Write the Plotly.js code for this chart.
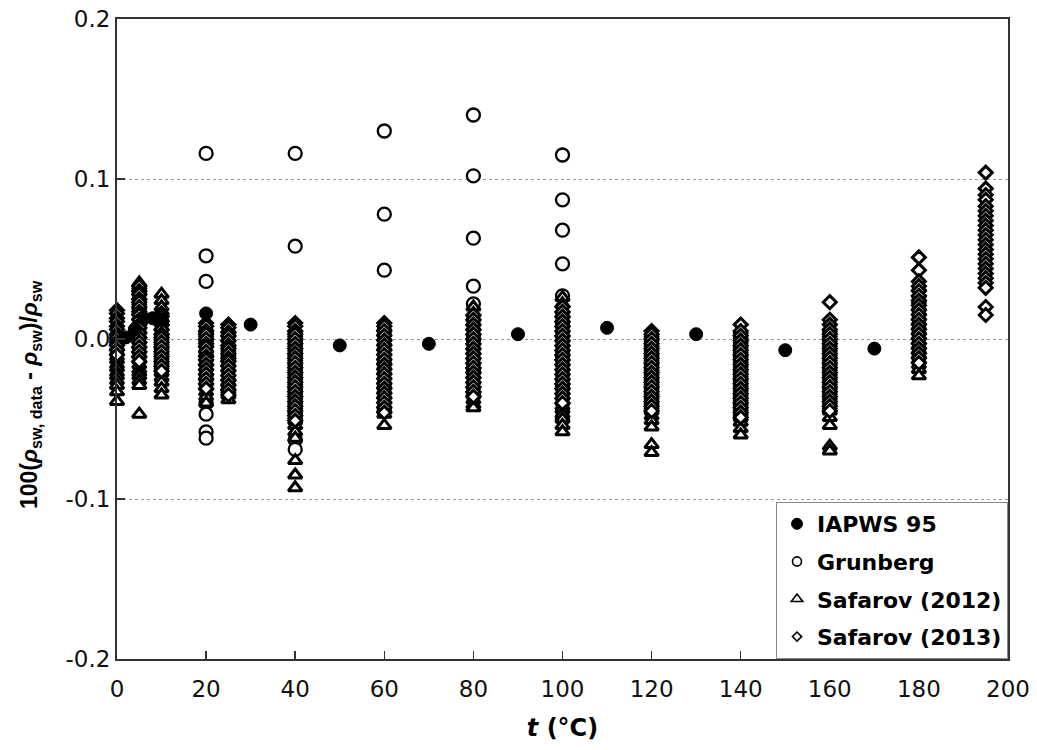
<!DOCTYPE html>
<html>
<head>
<meta charset="utf-8">
<script src="https://cdn.plot.ly/plotly-3.0.1.min.js"></script>
<style>html,body{margin:0;padding:0;background:#fff;}#chart{width:1037px;height:750px;}</style>
</head>
<body>
<div id="chart"></div>
<script>
// ---- data ----
const seriesNames = ["IAPWS 95", "Grunberg", "Safarov (2012)", "Safarov (2013)"];

const iapwsT   = [2, 4, 6, 8, 10, 20, 30, 50, 70, 90, 110, 130, 150, 170];
const iapwsDev = [0.001, 0.006, 0.013, 0.013, 0.012, 0.016, 0.009, -0.004, -0.003, 0.003, 0.007, 0.003, -0.007, -0.006];

const grunbergTemps = [20, 40, 60, 80, 100];
const grunbergDevs = [
  [0.116, 0.052, 0.036, 0.005, -0.010, -0.025, -0.040, -0.047, -0.058, -0.062],
  [0.116, 0.058, -0.010, -0.030, -0.045, -0.063, -0.069],
  [0.130, 0.078, 0.043, 0.005, -0.015, -0.030, -0.045],
  [0.140, 0.102, 0.063, 0.033, 0.022, 0.000, -0.020, -0.035],
  [0.115, 0.087, 0.068, 0.047, 0.027, 0.010, -0.010, -0.030, -0.050]
];

const safarov2012Temps = [0, 5, 10, 20, 25, 40, 60, 80, 100, 120, 140, 160, 180];
const safarov2012Devs = [
  [0.004, 0.001, -0.002, -0.005, -0.008, -0.011, -0.013, -0.016, -0.018, -0.021, -0.023, -0.026, -0.029, -0.033, -0.039],
  [0.035, 0.033, 0.031, 0.029, 0.026, 0.023, 0.020, 0.017, 0.014, 0.011, 0.008, 0.005, 0.002, -0.001, -0.004, -0.007, -0.010, -0.013, -0.016, -0.019, -0.021, -0.023, -0.026, -0.029, -0.047],
  [0.028, 0.024, 0.020, 0.016, 0.013, 0.010, 0.007, 0.004, 0.001, -0.002, -0.005, -0.008, -0.011, -0.014, -0.017, -0.019, -0.021, -0.024, -0.027, -0.031, -0.035],
  [0.006, 0.003, 0.000, -0.003, -0.006, -0.009, -0.012, -0.015, -0.018, -0.021, -0.024, -0.027, -0.030, -0.033, -0.036, -0.040],
  [0.006, 0.003, 0.000, -0.003, -0.006, -0.009, -0.012, -0.015, -0.018, -0.021, -0.024, -0.027, -0.030, -0.032, -0.035, -0.038],
  [0.006, 0.003, 0.000, -0.003, -0.006, -0.009, -0.012, -0.015, -0.018, -0.021, -0.024, -0.027, -0.030, -0.033, -0.036, -0.039, -0.042, -0.045, -0.048, -0.051, -0.054, -0.058, -0.062, -0.076, -0.085, -0.093],
  [0.007, 0.004, 0.001, -0.002, -0.005, -0.008, -0.011, -0.014, -0.017, -0.020, -0.023, -0.026, -0.029, -0.032, -0.035, -0.038, -0.041, -0.044, -0.047, -0.054],
  [0.020, 0.016, 0.013, 0.010, 0.007, 0.004, 0.001, -0.002, -0.005, -0.008, -0.011, -0.014, -0.017, -0.020, -0.023, -0.026, -0.029, -0.032, -0.035, -0.038, -0.041, -0.043],
  [0.026, 0.022, 0.018, 0.015, 0.012, 0.009, 0.006, 0.003, 0.000, -0.003, -0.006, -0.009, -0.012, -0.015, -0.018, -0.021, -0.024, -0.027, -0.030, -0.033, -0.036, -0.039, -0.042, -0.044, -0.047, -0.050, -0.054, -0.058],
  [0.003, 0.000, -0.003, -0.006, -0.009, -0.012, -0.015, -0.018, -0.021, -0.024, -0.027, -0.030, -0.033, -0.036, -0.039, -0.042, -0.045, -0.048, -0.051, -0.055, -0.066, -0.071],
  [0.005, 0.002, -0.001, -0.004, -0.007, -0.010, -0.013, -0.016, -0.019, -0.022, -0.025, -0.028, -0.031, -0.034, -0.037, -0.040, -0.043, -0.046, -0.049, -0.052, -0.056, -0.060],
  [0.006, 0.003, 0.000, -0.003, -0.006, -0.009, -0.012, -0.015, -0.018, -0.021, -0.024, -0.027, -0.030, -0.033, -0.036, -0.039, -0.042, -0.045, -0.049, -0.054, -0.067, -0.070],
  [0.032, 0.028, 0.024, 0.020, 0.017, 0.014, 0.011, 0.008, 0.005, 0.002, -0.001, -0.004, -0.007, -0.010, -0.013, -0.016, -0.019, -0.023]
];

const safarov2013Temps = [0, 5, 10, 20, 25, 40, 60, 80, 100, 120, 140, 160, 180, 195];
const safarov2013Devs = [
  [0.018, 0.016, 0.013, 0.011, 0.008, 0.006, 0.003, 0.001, -0.002, -0.004, -0.007, -0.010],
  [0.033, 0.030, 0.028, 0.025, 0.023, 0.020, 0.017, 0.015, 0.012, 0.009, 0.007, 0.004, 0.001, -0.002, -0.005, -0.008, -0.011, -0.014],
  [0.016, 0.014, 0.011, 0.009, 0.006, 0.003, 0.001, -0.002, -0.005, -0.008, -0.011, -0.014, -0.017, -0.020],
  [0.010, 0.008, 0.005, 0.003, 0.000, -0.003, -0.005, -0.008, -0.011, -0.013, -0.016, -0.019, -0.022, -0.025, -0.028, -0.031],
  [0.009, 0.007, 0.004, 0.002, -0.001, -0.004, -0.006, -0.009, -0.012, -0.014, -0.017, -0.020, -0.023, -0.026, -0.029, -0.032, -0.035],
  [0.010, 0.008, 0.005, 0.003, 0.000, -0.003, -0.006, -0.009, -0.012, -0.015, -0.018, -0.021, -0.024, -0.027, -0.030, -0.033, -0.036, -0.039, -0.042, -0.045, -0.048, -0.051],
  [0.010, 0.008, 0.005, 0.002, -0.001, -0.004, -0.007, -0.010, -0.013, -0.016, -0.019, -0.022, -0.025, -0.028, -0.031, -0.034, -0.037, -0.040, -0.043, -0.046],
  [0.015, 0.012, 0.009, 0.006, 0.003, 0.000, -0.003, -0.006, -0.009, -0.012, -0.015, -0.018, -0.021, -0.024, -0.027, -0.030, -0.033, -0.036],
  [0.020, 0.017, 0.014, 0.011, 0.008, 0.005, 0.002, -0.001, -0.004, -0.007, -0.010, -0.013, -0.016, -0.019, -0.022, -0.025, -0.028, -0.031, -0.034, -0.037, -0.040],
  [0.005, 0.003, 0.000, -0.003, -0.006, -0.009, -0.012, -0.015, -0.018, -0.021, -0.024, -0.027, -0.030, -0.033, -0.036, -0.039, -0.042, -0.045],
  [0.009, 0.005, 0.002, -0.001, -0.004, -0.007, -0.010, -0.013, -0.016, -0.019, -0.022, -0.025, -0.028, -0.031, -0.034, -0.037, -0.040, -0.043, -0.046, -0.049],
  [0.023, 0.012, 0.009, 0.006, 0.003, 0.000, -0.003, -0.006, -0.009, -0.012, -0.015, -0.018, -0.021, -0.024, -0.027, -0.030, -0.033, -0.036, -0.039, -0.042, -0.045],
  [0.051, 0.043, 0.036, 0.033, 0.030, 0.027, 0.024, 0.021, 0.018, 0.015, 0.012, 0.009, 0.006, 0.003, 0.000, -0.003, -0.006, -0.009, -0.012, -0.015],
  [0.104, 0.094, 0.090, 0.087, 0.083, 0.080, 0.077, 0.074, 0.071, 0.068, 0.065, 0.062, 0.059, 0.056, 0.053, 0.050, 0.047, 0.044, 0.041, 0.038, 0.035, 0.032, 0.020, 0.015]
];

const xTickVals = [0, 20, 40, 60, 80, 100, 120, 140, 160, 180, 200];
const yTickVals = [-0.2, -0.1, 0.0, 0.1, 0.2];
const yTickText = ["-0.2", "-0.1", "0.0", "0.1", "0.2"];
const yTitleText = '100(<i>ρ</i><sub>sw, data</sub> - <i>ρ</i><sub>sw</sub>)/<i>ρ</i><sub>sw</sub>';
const xTitleText = '<i>t</i> (°C)';

// ---- build traces ----
function flatten(temps, devs) {
  const xs = [], ys = [];
  temps.forEach((t, i) => devs[i].forEach(d => { xs.push(t); ys.push(d); }));
  return {x: xs, y: ys};
}
const grun = flatten(grunbergTemps, grunbergDevs);
const s12 = flatten(safarov2012Temps, safarov2012Devs);
const s13 = flatten(safarov2013Temps, safarov2013Devs);

const lineStyle = {color: '#000', width: 3};
const markerDefs = [
  {symbol: 'circle', size: 13, color: '#000', line: {color: '#000', width: 1}},
  {symbol: 'circle', size: 13, color: '#fff', line: {color: '#000', width: 2.3}},
  {symbol: 'triangle-up', size: 12, color: '#fff', line: lineStyle},
  {symbol: 'diamond', size: 10, color: '#fff', line: lineStyle}
];
const legendMarkers = [
  {symbol: 'circle', size: 11, color: '#000', line: {color: '#000', width: 1}},
  {symbol: 'circle', size: 9, color: '#fff', line: {color: '#000', width: 1.6}},
  {symbol: 'triangle-up', size: 10, color: '#fff', line: {color: '#000', width: 1.6}},
  {symbol: 'diamond', size: 7, color: '#fff', line: {color: '#000', width: 1.6}}
];

function dataTrace(x, y, i) {
  return {x: x, y: y, name: seriesNames[i], showlegend: false, mode: 'markers', type: 'scatter',
          cliponaxis: false, marker: markerDefs[i], legendgroup: 'g' + i};
}
function legendTrace(i) {
  return {x: [null], y: [null], name: seriesNames[i], showlegend: true, mode: 'markers', type: 'scatter',
          legendgroup: 'g' + i, legendrank: i + 1, marker: legendMarkers[i]};
}

const traces = [
  dataTrace(grun.x, grun.y, 1),
  dataTrace(s12.x, s12.y, 2),
  dataTrace(s13.x, s13.y, 3),
  dataTrace(iapwsT, iapwsDev, 0),
  legendTrace(0), legendTrace(1), legendTrace(2), legendTrace(3)
];

const fontFam = 'DejaVu Sans, sans-serif';
const layout = {
  width: 1037, height: 750,
  margin: {l: 117, r: 29, t: 19, b: 91},
  paper_bgcolor: '#fff', plot_bgcolor: '#fff',
  font: {family: fontFam, size: 23, color: '#111'},
  showlegend: true,
  legend: {
    x: 1, y: 0, xanchor: 'right', yanchor: 'bottom',
    bgcolor: '#fff', bordercolor: '#888', borderwidth: 1,
    font: {family: fontFam, size: 22, color: '#000', weight: 'bold'},
    itemsizing: 'trace', itemwidth: 30,
    traceorder: 'grouped', tracegroupgap: 6
  },
  xaxis: {
    range: [0, 200], tickvals: xTickVals, ticktext: xTickVals.map(String),
    ticks: 'inside', ticklen: 8, tickwidth: 1.5, tickcolor: '#333',
    showline: true, linecolor: '#333', linewidth: 2, mirror: true,
    showgrid: false, zeroline: false,
    ticklabelstandoff: 8,
    tickfont: {family: fontFam, size: 23, color: '#111'},
    title: {text: xTitleText, font: {family: fontFam, size: 24, color: '#000', weight: 'bold'}, standoff: 19}
  },
  yaxis: {
    range: [-0.2, 0.2], tickvals: yTickVals, ticktext: yTickText,
    ticks: 'inside', ticklen: 8, tickwidth: 1.5, tickcolor: '#333',
    showline: true, linecolor: '#333', linewidth: 2, mirror: true,
    showgrid: true, gridcolor: '#999', gridwidth: 1, griddash: 'dot',
    zeroline: false,
    tickfont: {family: fontFam, size: 23, color: '#111'},
    title: {text: ''}
  },
  annotations: [{
    text: yTitleText, xref: 'paper', yref: 'paper', x: -0.0976, y: 0.4125,
    xanchor: 'center', yanchor: 'middle', textangle: -90, showarrow: false,
    font: {family: 'Liberation Sans, Arial, sans-serif', size: 23, color: '#000', weight: 'bold'}
  }]
};

Plotly.newPlot('chart', traces, layout, {displayModeBar: false, staticPlot: true});
</script>
</body>
</html>
